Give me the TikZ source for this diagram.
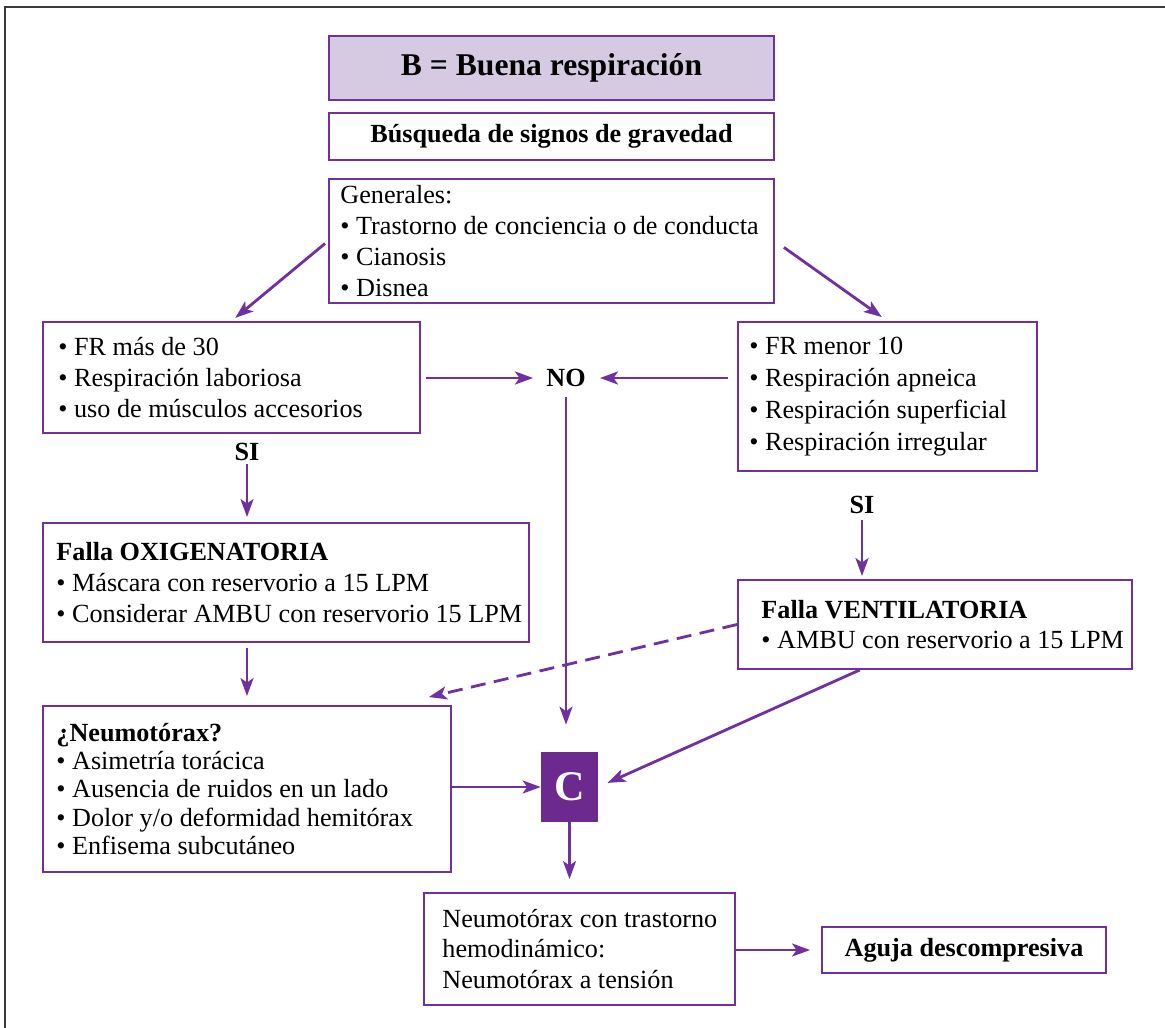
\documentclass[tikz,border=0pt]{standalone}
\usepackage{fontspec}
\setmainfont{Liberation Serif}
\usetikzlibrary{arrows.meta, positioning, calc}
\definecolor{vio}{HTML}{7030A0}
\definecolor{vioDark}{HTML}{6C2A8F}
\definecolor{vioLight}{HTML}{D6C9E2}
\definecolor{frameGray}{HTML}{3A3A3A}

\begin{document}
\begin{tikzpicture}[x=0.02cm, y=-0.02cm,
  marco/.style={draw=vio, line width=1.1pt, inner sep=0pt, align=center},
  texto/.style={inner sep=0pt, align=left, font=\fontsize{14.9}{17.6}\selectfont},
  flecha/.style={-{Stealth[length=3.6mm, width=2.6mm, inset=0.9mm]}, line width=1.6pt, vio},
  etiqueta/.style={inner sep=0pt, font=\fontsize{14.9}{17.6}\selectfont\bfseries}]
  \useasboundingbox (0,0) rectangle (1165,1027);
  \draw[frameGray, line width=1.7pt] (5,1040) -- (5,7) -- (1175,7);

  \node[marco, fill=vioLight, line width=1.6pt, minimum width=8.9cm, minimum height=1.28cm, font=\fontsize{18}{22}\selectfont\bfseries] (titulo) at (551.5,68) {B = Buena respiración};
  \node[marco, minimum width=8.9cm, minimum height=0.94cm, font=\fontsize{14.9}{17.6}\selectfont\bfseries] (busqueda) at (551.5,136.5) {Búsqueda de signos de gravedad};

  \node[marco, minimum width=8.9cm, minimum height=2.48cm] (generales) at (551.5,241) {};
  \node[texto, right=0.24cm of generales.west] (generalesTxt) {Generales:\\• Trastorno de conciencia o de conducta\\• Cianosis\\• Disnea};

  \node[marco, minimum width=7.54cm, minimum height=2.22cm] (frmas) at (231.5,377.5) {};
  \node[texto, right=0.32cm of frmas.west] (frmasTxt) {• FR más de 30\\• Respiración laboriosa\\• uso de músculos accesorios};

  \node[marco, minimum width=5.98cm, minimum height=2.98cm] (frmenor) at (887.5,396.5) {};
  \node[texto, font=\fontsize{14.9}{18.2}\selectfont, right=0.24cm of frmenor.west] (frmenorTxt) {• FR menor 10\\• Respiración apneica\\• Respiración superficial\\• Respiración irregular};

  \node[etiqueta] (no) at (566,378) {NO};
  \node[etiqueta] (si1) at (247,452) {SI};
  \node[etiqueta] (si2) at (862,505) {SI};

  \node[marco, minimum width=9.72cm, minimum height=2.38cm] (oxi) at (286,582.5) {};
  \node[texto, right=0.28cm of oxi.west] (oxiTxt) {\textbf{Falla OXIGENATORIA}\\• Máscara con reservorio a 15 LPM\\• Considerar AMBU con reservorio 15 LPM};

  \node[marco, minimum width=7.88cm, minimum height=1.78cm] (venti) at (935,624.5) {};
  \node[texto, right=0.48cm of venti.west] (ventiTxt) {\textbf{Falla VENTILATORIA}\\• AMBU con reservorio a 15 LPM};

  \node[marco, minimum width=8.16cm, minimum height=3.32cm] (neumo) at (247,789) {};
  \node[texto, font=\fontsize{14.9}{16.2}\selectfont, right=0.28cm of neumo.west] (neumoTxt) {\textbf{¿Neumotórax?}\\• Asimetría torácica\\• Ausencia de ruidos en un lado\\• Dolor y/o deformidad hemitórax\\• Enfisema subcutáneo};

  \node[fill=vioDark, text=white, minimum width=1.14cm, minimum height=1.4cm, inner sep=0pt, font=\fontsize{24}{28}\selectfont\bfseries] (cbox) at (569.5,787) {C};

  \node[marco, minimum width=6.22cm, minimum height=2.24cm] (tension) at (579.5,949) {};
  \node[texto, right=0.38cm of tension.west] (tensionTxt) {Neumotórax con trastorno\\hemodinámico:\\Neumotórax a tensión};

  \node[marco, minimum width=5.68cm, minimum height=0.92cm, font=\fontsize{14.9}{17.6}\selectfont\bfseries] (aguja) at (964,950) {Aguja descompresiva};

  \coordinate (dashend) at ($(neumo.north east)+(-23,-8)$);
  \coordinate (ventout) at ($(venti.south west)!0.31!(venti.south east)$);

  \draw[flecha, shorten <=0.08cm, shorten >=0.1cm] (generales.west) -- (frmas.north);
  \draw[flecha, shorten <=0.22cm, shorten >=0.14cm] (generales.east) -- (frmenor.north);
  \draw[flecha, shorten <=0.1cm, shorten >=0.26cm] (frmas.east |- no) -- (no.west);
  \draw[flecha, shorten <=0.18cm, shorten >=0.28cm] (frmenor.west |- no) -- (no.east);
  \draw[flecha, shorten <=0.2cm, shorten >=0.54cm] (no.south) -- (no.south |- cbox.north);
  \draw[flecha, shorten <=0.06cm, shorten >=0.1cm] (si1.south) -- (si1.south |- oxi.north);
  \draw[flecha, shorten <=0.1cm, shorten >=0.18cm] (si1.south |- oxi.south) -- (si1.south |- neumo.north);
  \draw[flecha, shorten <=0.12cm, shorten >=0.06cm] (si2.south) -- (si2.south |- venti.north);
  \draw[flecha, dash pattern=on 0.3cm off 0.17cm] (venti.west) -- (dashend);
  \draw[flecha, shorten >=0.2cm] (ventout) -- (cbox.east);
  \draw[flecha] (neumo.east |- cbox.west) -- (cbox.west);
  \draw[flecha, shorten >=0.26cm] (cbox.south) -- (cbox.south |- tension.north);
  \draw[flecha, shorten >=0.22cm] (tension.east |- aguja.west) -- (aguja.west);
\end{tikzpicture}
\end{document}
